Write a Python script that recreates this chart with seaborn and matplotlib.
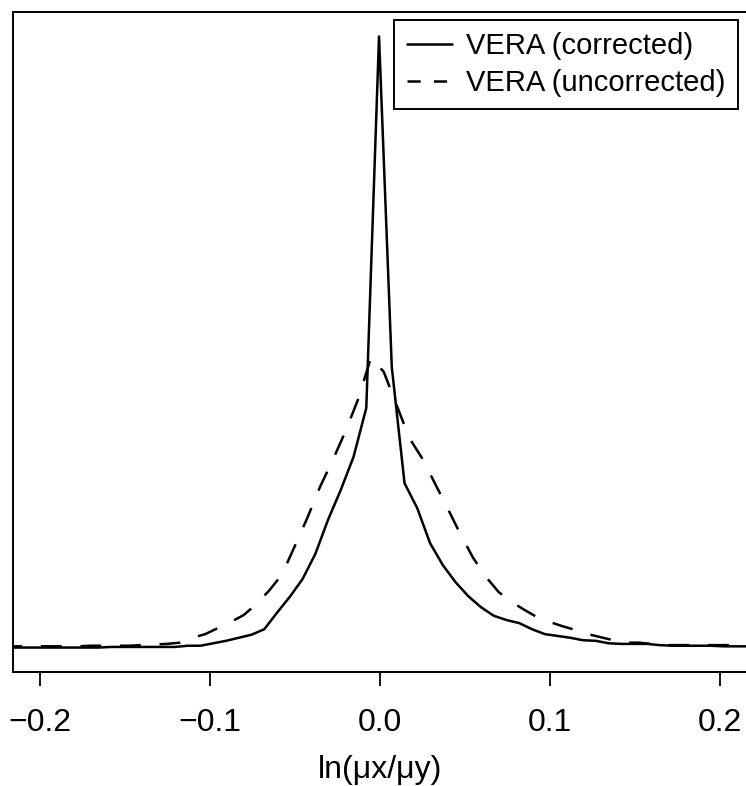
import numpy as np
import pandas as pd
import matplotlib
matplotlib.use("Agg")
import matplotlib.pyplot as plt
from matplotlib.lines import Line2D
import seaborn as sns

sns.set_style("white")
plt.rcParams["font.family"] = ["Liberation Sans", "DejaVu Sans"]
plt.rcParams["lines.scale_dashes"] = False
plt.rcParams["text.color"] = "black"
plt.rcParams["axes.labelcolor"] = "black"
plt.rcParams["xtick.color"] = "black"

# Bin centres (step 0.0075) for each histogram-style curve
x_corrected = np.round(-0.0006 + 0.0075 * np.arange(-29, 30), 4)
x_uncorrected = np.round(-0.0053 + 0.0075 * np.arange(-29, 30), 4)

# Relative frequency of ln(mu_x/mu_y), corrected estimates
y_corrected = [
    0.000, 0.000, 0.000, 0.000, 0.000, 0.000, 0.000, 0.000, 0.001, 0.001,
    0.001, 0.001, 0.001, 0.001, 0.003, 0.003, 0.007, 0.011, 0.016, 0.021,
    0.030, 0.057, 0.083, 0.112, 0.153, 0.209, 0.258, 0.312, 0.392, 1.000,
    0.459, 0.269, 0.228, 0.171, 0.135, 0.107, 0.084, 0.066, 0.052, 0.045,
    0.040, 0.030, 0.022, 0.019, 0.016, 0.012, 0.011, 0.007, 0.006, 0.006,
    0.006, 0.004, 0.003, 0.003, 0.003, 0.003, 0.002, 0.002, 0.002,
]

# Relative frequency of ln(mu_x/mu_y), uncorrected estimates
y_uncorrected = [
    0.002, 0.002, 0.002, 0.002, 0.002, 0.002, 0.002, 0.003, 0.003, 0.003,
    0.003, 0.004, 0.005, 0.006, 0.008, 0.016, 0.022, 0.032, 0.042, 0.053,
    0.071, 0.093, 0.119, 0.165, 0.212, 0.263, 0.307, 0.354, 0.407, 0.475,
    0.451, 0.397, 0.343, 0.310, 0.269, 0.228, 0.186, 0.147, 0.116, 0.091,
    0.075, 0.062, 0.050, 0.042, 0.035, 0.029, 0.022, 0.017, 0.012, 0.008,
    0.008, 0.006, 0.004, 0.004, 0.004, 0.004, 0.004, 0.004, 0.004,
]

series_names = ["VERA (corrected)", "VERA (uncorrected)"]
x_ticks = [-0.2, -0.1, 0.0, 0.1, 0.2]

df = pd.concat([
    pd.DataFrame({"x": x_corrected, "y": y_corrected, "series": series_names[0]}),
    pd.DataFrame({"x": x_uncorrected, "y": y_uncorrected, "series": series_names[1]}),
])

W, H = 746, 786
fig = plt.figure(figsize=(W / 100, H / 100), dpi=100)
ax_left, ax_right, ax_top, ax_bottom = 12.5, 747.6, 12.0, 672.0
ax = fig.add_axes([ax_left / W, 1 - ax_bottom / H,
                   (ax_right - ax_left) / W, (ax_bottom - ax_top) / H])

sns.lineplot(
    data=df, x="x", y="y", style="series", style_order=series_names,
    dashes={series_names[0]: "", series_names[1]: (15.0, 13.5)},
    color="black", linewidth=1.8, estimator=None, sort=False,
    legend=False, ax=ax,
)

all_y = np.concatenate([y_corrected, y_uncorrected])
pad = 0.04 * (all_y.max() - all_y.min())
ax.set_ylim(all_y.min() - pad, all_y.max() + pad)
ax.set_xlim(-0.2162, 0.2162)

ax.set_xticks(x_ticks)
ax.set_xticklabels([f"{t:.1f}".replace("-", "\u2212") for t in x_ticks])
ax.set_yticks([])
ax.tick_params(axis="x", direction="out", length=10, width=1.3,
               pad=16, labelsize=23, colors="black", bottom=True)
ax.set_xlabel("ln(\u03bcx/\u03bcy)", fontsize=23, labelpad=12)
ax.set_ylabel("")
for side in ["left", "right", "top", "bottom"]:
    ax.spines[side].set_visible(True)
    ax.spines[side].set_color("black")
    ax.spines[side].set_linewidth(1.4)

handles = [
    Line2D([], [], color="black", linewidth=1.8, linestyle="-"),
    Line2D([], [], color="black", linewidth=1.8, dashes=(9.5, 9.5)),
]
leg = ax.legend(
    handles, series_names, loc="upper right",
    bbox_to_anchor=(738 / W, 1 - 20 / H), bbox_transform=fig.transFigure,
    fontsize=21, frameon=True, fancybox=False, framealpha=1,
    edgecolor="black", handlelength=1.55, handletextpad=0.5,
    labelspacing=0.3, borderpad=0.42, borderaxespad=0,
)
leg.get_frame().set_linewidth(1.4)

fig.savefig("out.png", dpi=100)
